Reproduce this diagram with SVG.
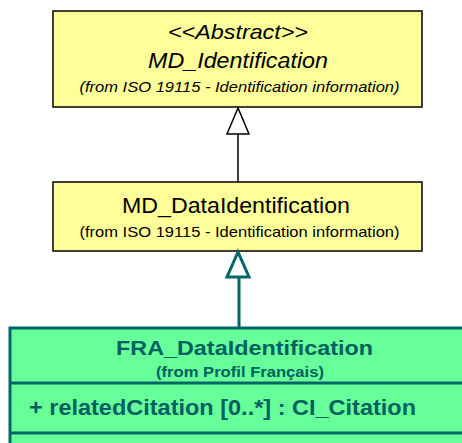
<svg xmlns="http://www.w3.org/2000/svg" width="462" height="443" viewBox="0 0 462 443">
<style>
.ybox{fill:#FFFF99;stroke:#000;stroke-width:1.5}
.gbox{fill:#66FF99;stroke:#006666;stroke-width:3}
.t{font-family:"Liberation Sans",Arial,sans-serif;text-anchor:middle;fill:#000}
.it{font-style:italic}
.g{fill:#006060;font-weight:bold}
</style>
<rect width="462" height="443" fill="#fff"/>
<g id="MD_Identification">
<rect class="ybox" x="53" y="11" width="369" height="96"/>
<text class="t it" x="238" y="39" font-size="21" textLength="140" lengthAdjust="spacingAndGlyphs">&lt;&lt;Abstract&gt;&gt;</text>
<text class="t it" x="238" y="68" font-size="21.5" textLength="180" lengthAdjust="spacingAndGlyphs">MD_Identification</text>
<text class="t it" x="239.5" y="92" font-size="15" textLength="320" lengthAdjust="spacingAndGlyphs">(from ISO 19115 - Identification information)</text>
</g>
<g id="MD_DataIdentification">
<rect class="ybox" x="53" y="182" width="369" height="69"/>
<text class="t" x="236" y="213" font-size="21.5" textLength="228" lengthAdjust="spacingAndGlyphs">MD_DataIdentification</text>
<text class="t" x="239.5" y="237" font-size="15" textLength="320" lengthAdjust="spacingAndGlyphs">(from ISO 19115 - Identification information)</text>
</g>
<g id="FRA_DataIdentification">
<rect class="gbox" x="10" y="328" width="460" height="130"/>
<line x1="10" y1="383" x2="462" y2="383" stroke="#006666" stroke-width="3"/>
<line x1="10" y1="433" x2="462" y2="433" stroke="#006666" stroke-width="3"/>
<text class="t g" x="244.5" y="355" font-size="21" textLength="257" lengthAdjust="spacingAndGlyphs">FRA_DataIdentification</text>
<text class="t g" x="240" y="377" font-size="14" textLength="168" lengthAdjust="spacingAndGlyphs">(from Profil Français)</text>
<text class="t g" x="222.5" y="415" font-size="21.5" textLength="387" lengthAdjust="spacingAndGlyphs">+ relatedCitation [0..*] : CI_Citation</text>
</g>
<g id="connectors">
<line x1="238" y1="134" x2="238" y2="182" stroke="#000" stroke-width="1.5"/>
<polygon points="238,108 227,134 249,134" fill="#fff" stroke="#000" stroke-width="1.5"/>
<line x1="239" y1="277" x2="239" y2="327" stroke="#006666" stroke-width="3"/>
<polygon points="238,252 227,277 249,277" fill="#fff" stroke="#006666" stroke-width="3"/>
</g>
</svg>
